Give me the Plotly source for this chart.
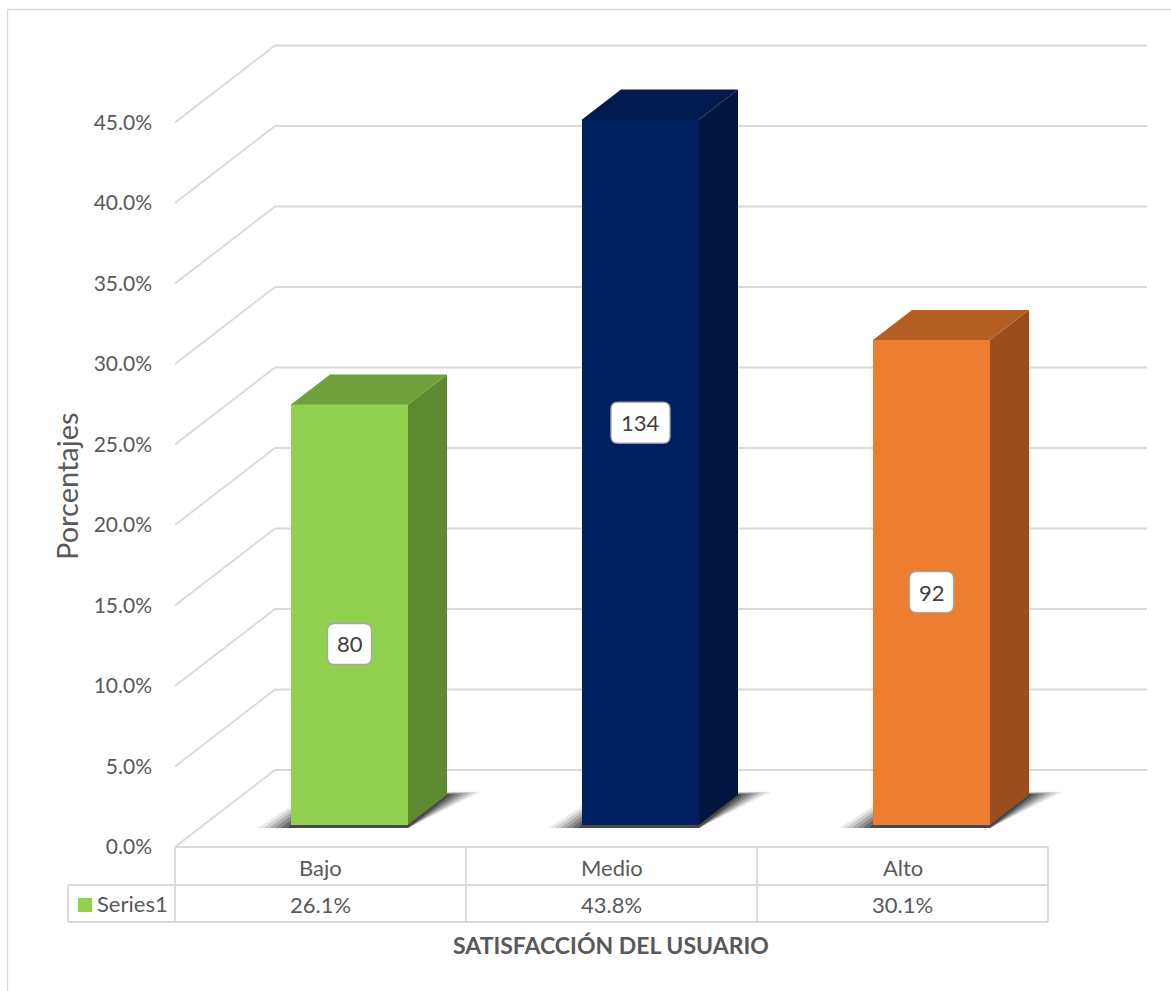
import plotly.graph_objects as go

# ---------------- data ----------------
categories = ["Bajo", "Medio", "Alto"]
percentages = [26.1, 43.8, 30.1]
counts = [80, 134, 92]
tick_values = [0, 5, 10, 15, 20, 25, 30, 35, 40, 45]
series_name = "Series1"
x_title = "SATISFACCIÓN DEL USUARIO"
y_title = "Porcentajes"

# ---------------- style ----------------
front_colors = ["#92D050", "#002060", "#ED7D31"]
top_colors = ["#70A03C", "#001A4F", "#B45E24"]
side_colors = ["#5E8A32", "#00163F", "#9A4E1D"]
label_frac = [0.43, 0.57, 0.48]
FONT = "Lato"
TXT = "#595959"
GRID = "#d9d9d9"

W, H = 1171, 991
ML, MR, MT, MB = 175, 24, 30, 144
PW, PH = W - ML - MR, H - MT - MB
CAT_PX = 291.0
PX_PCT = 16.1
X0 = -0.5
X1 = X0 + PW / CAT_PX
Y1 = PH / PX_PCT
DX = 100.0 / CAT_PX
DY = 77.0 / PX_PCT
F0, FD = 0.29, 0.39
BW = 117.0 / CAT_PX
n = len(categories)
XL, XR = -0.5, n - 0.5


def pxx(p):
    return (p - ML) / PW


def pxy(p):
    return (H - MB - p) / PH


def colpx(b):
    return ML + (b - X0) * CAT_PX


fig = go.Figure()
shapes = []
annotations = []

# gridlines (front-left diagonal + back wall)
for v in tick_values:
    shapes.append(dict(type="path", xref="x", yref="y", layer="below",
                       path=f"M {XL},{v} L {XL+DX},{v+DY} L {XR+DX},{v+DY}",
                       line=dict(color=GRID, width=1.8)))

# bar geometry
xc = [i + F0 * DX for i in range(n)]
base = F0 * DY

# soft shadows on the floor
for i, v in enumerate(percentages):
    xl, xr = xc[i] - BW / 2, xc[i] + BW / 2
    for e, op in [(0.115, 0.09), (0.095, 0.12), (0.075, 0.16), (0.055, 0.2),
                  (0.035, 0.26), (0.015, 0.34)]:
        ey = e * 8
        path = (f"M {xl-e},{base-0.2} L {xr},{base-0.2} "
                f"L {xr+FD*DX+e},{base+FD*DY+ey*0.2} L {xl+FD*DX-e*0.5},{base+FD*DY+ey*0.2} Z")
        shapes.append(dict(type="path", xref="x", yref="y", layer="below", path=path,
                           fillcolor=f"rgba(10,10,10,{op})", line=dict(width=0)))

# front faces
fig.add_trace(go.Bar(x=xc, y=percentages, base=base, width=BW,
                     marker=dict(color=front_colors, line=dict(width=0)),
                     hoverinfo="skip", showlegend=False))

# side and top faces
for i, v in enumerate(percentages):
    xl, xr = xc[i] - BW / 2, xc[i] + BW / 2
    top = base + v
    fig.add_trace(go.Scatter(
        x=[xr, xr + FD * DX, xr + FD * DX, xr, xr],
        y=[base, base + FD * DY, top + FD * DY, top, base],
        fill="toself", fillcolor=side_colors[i], mode="lines",
        line=dict(width=0, color=side_colors[i]), hoverinfo="skip", showlegend=False))
    fig.add_trace(go.Scatter(
        x=[xl, xr, xr + FD * DX, xl + FD * DX, xl],
        y=[top, top, top + FD * DY, top + FD * DY, top],
        fill="toself", fillcolor=top_colors[i], mode="lines",
        line=dict(width=0, color=top_colors[i]), hoverinfo="skip", showlegend=False))

# data labels (rounded boxes)
for i, c in enumerate(counts):
    s = str(c)
    w = 44 if len(s) <= 2 else 59
    h = 41
    r = 7
    hw, hh = w / 2, h / 2
    path = (f"M {-hw+r},{-hh} L {hw-r},{-hh} Q {hw},{-hh} {hw},{-hh+r} "
            f"L {hw},{hh-r} Q {hw},{hh} {hw-r},{hh} L {-hw+r},{hh} "
            f"Q {-hw},{hh} {-hw},{hh-r} L {-hw},{-hh+r} Q {-hw},{-hh} {-hw+r},{-hh} Z")
    ly = base + label_frac[i] * percentages[i]
    shapes.append(dict(type="path", xref="x", yref="y", xsizemode="pixel", ysizemode="pixel",
                       xanchor=xc[i], yanchor=ly, path=path, fillcolor="white",
                       line=dict(color="#a6a6a6", width=1.3), layer="above"))
    annotations.append(dict(x=xc[i], y=ly, xref="x", yref="y", text=s, showarrow=False,
                            xanchor="center", yanchor="middle",
                            font=dict(family=FONT, size=22, color="#404040")))

# data table
t_top, t_mid, t_bot = 847, 885, 922
leg_left = 68
right_px = colpx(XR)
line_st = dict(color=GRID, width=1.8)
shapes.append(dict(type="line", xref="paper", yref="paper", x0=pxx(colpx(XL)), x1=pxx(right_px),
                   y0=pxy(t_top), y1=pxy(t_top), line=line_st))
for yy in (t_mid, t_bot):
    shapes.append(dict(type="line", xref="paper", yref="paper", x0=pxx(leg_left), x1=pxx(right_px),
                       y0=pxy(yy), y1=pxy(yy), line=line_st))
for b in [XL + k for k in range(n + 1)]:
    shapes.append(dict(type="line", xref="paper", yref="paper", x0=pxx(colpx(b)), x1=pxx(colpx(b)),
                       y0=pxy(t_top), y1=pxy(t_bot), line=line_st))
shapes.append(dict(type="line", xref="paper", yref="paper", x0=pxx(leg_left), x1=pxx(leg_left),
                   y0=pxy(t_mid), y1=pxy(t_bot), line=line_st))

for i, (cat, v) in enumerate(zip(categories, percentages)):
    cx = pxx(colpx(i))
    annotations.append(dict(x=cx, y=pxy((t_top + t_mid) / 2 + 1), xref="paper", yref="paper",
                            xanchor="center", yanchor="middle",
                            text=cat, showarrow=False,
                            font=dict(family=FONT, size=22, color=TXT)))
    annotations.append(dict(x=cx, y=pxy((t_mid + t_bot) / 2 + 1), xref="paper", yref="paper",
                            xanchor="center", yanchor="middle",
                            text=f"{v:.1f}%", showarrow=False,
                            font=dict(family=FONT, size=22, color=TXT)))

# legend key in table
shapes.append(dict(type="rect", xref="paper", yref="paper", x0=pxx(78), x1=pxx(92),
                   y0=pxy(912), y1=pxy(898), fillcolor=front_colors[0], line=dict(width=0)))
annotations.append(dict(x=pxx(95), y=pxy(904), xref="paper", yref="paper",
                        xanchor="left", yanchor="middle",
                        text=series_name, showarrow=False,
                        font=dict(family=FONT, size=22, color=TXT)))

# titles
annotations.append(dict(x=pxx(611), y=pxy(945), xref="paper", yref="paper", text=f"<b>{x_title}</b>",
                        xanchor="center", yanchor="middle",
                        showarrow=False, font=dict(family=FONT, size=23, color=TXT)))
annotations.append(dict(x=pxx(66), y=pxy(486), xref="paper", yref="paper", text=y_title,
                        xanchor="center", yanchor="middle",
                        textangle=-90, showarrow=False,
                        font=dict(family=FONT, size=29, color=TXT)))

# outer chart border
shapes.append(dict(type="rect", xref="paper", yref="paper", x0=pxx(7.5), x1=pxx(1190),
                   y0=pxy(1010), y1=pxy(9.5), line=dict(color=GRID, width=1.3), layer="below"))

fig.update_layout(
    width=W, height=H,
    margin=dict(l=ML, r=MR, t=MT, b=MB, autoexpand=False),
    paper_bgcolor="white", plot_bgcolor="white",
    showlegend=False, bargap=0,
    xaxis=dict(range=[X0, X1], showgrid=False, zeroline=False, showticklabels=False,
               showline=False, fixedrange=True),
    yaxis=dict(range=[0, Y1], showgrid=False, zeroline=False, showline=False,
               tickvals=tick_values, ticktext=[f"{v:.1f}%" for v in tick_values],
               tickfont=dict(family=FONT, size=21, color=TXT), ticks="",
               ticklabelstandoff=22, fixedrange=True),
    shapes=shapes, annotations=annotations,
)

fig.write_html("out.html")
